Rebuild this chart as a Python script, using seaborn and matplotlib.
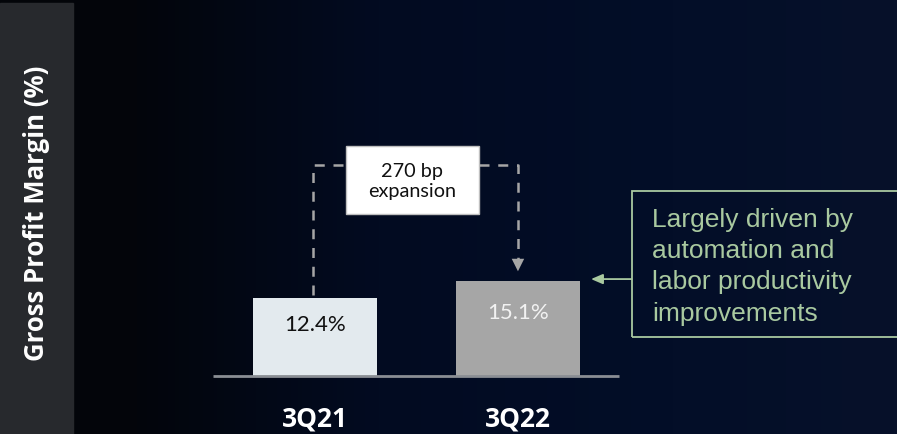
import numpy as np
import pandas as pd
import matplotlib
matplotlib.use('Agg')
import matplotlib.pyplot as plt
import seaborn as sns
from matplotlib.colors import LinearSegmentedColormap
from matplotlib.patches import Rectangle

# data
quarters = ['3Q21', '3Q22']
margins = [12.4, 15.1]
bar_labels = ['12.4%', '15.1%']
bar_colors = ['#e3eaee', '#a6a6a6']
label_colors = ['#111111', '#f2f2f2']
delta_text = '270 bp\nexpansion'
note_text = 'Largely driven by\nautomation and\nlabor productivity\nimprovements'
ylabel = 'Gross Profit Margin (%)'

df = pd.DataFrame({'quarter': quarters, 'margin': margins})

sns.set_style('white')
plt.rcParams['font.family'] = ['Open Sans', 'DejaVu Sans']

W, H = 897, 435
fig = plt.figure(figsize=(W / 100, H / 100), dpi=100)

# gradient background
bg = fig.add_axes([0, 0, 1, 1], zorder=0)
cmap = LinearSegmentedColormap.from_list(
    'bg', [(0, '#030509'), (0.15, '#03050b'), (0.42, '#020b21'), (0.75, '#030e28'), (1, '#07112a')])
bg.imshow(np.linspace(0, 1, 256)[None, :], aspect='auto', cmap=cmap, extent=[0, 1, 0, 1])
bg.set_axis_off()

# left label panel
bg.add_patch(Rectangle((0, 0), 73 / W, 431 / H, transform=bg.transAxes,
                       color='#27292d', zorder=2))
fig.text(37 / W, 1 - 213 / H, ylabel, rotation=90, ha='center', va='center',
         color='white', fontsize=18.5, fontweight='bold')

# main axes: baseline at y=377px, 6.29 px per point; bars centred at 315 / 518 px
ax = fig.add_axes([213 / W, 58 / H, 1 - 213 / W, 1 - 58 / H], zorder=1)
ax.patch.set_alpha(0)
sns.barplot(data=df, x='quarter', y='margin', hue='quarter', palette=bar_colors,
            width=0.61, legend=False, ax=ax, saturation=1, linewidth=0, edgecolor='none')
ax.set_xlim(-0.502, 2.867)
ax.set_ylim(0, 59.9)
ax.set_axis_off()

ax.plot([-0.502, 1.50], [0, 0], color='#8a8e94', lw=2, solid_capstyle='butt', clip_on=False)

for i, (m, lab) in enumerate(zip(margins, bar_labels)):
    ax.text(i, m - 4.1 - i * 0.9, lab, ha='center', va='center', color=label_colors[i],
            fontsize=16, family=['Lato', 'DejaVu Sans'])
    ax.text(i, -6.6, quarters[i], ha='center', va='center', color='white',
            fontsize=19, fontweight='bold')

# dashed bracket
dash = dict(color='#a6a6a6', lw=1.8, ls=(0, (4, 3.5)))
ax.plot([-0.01, -0.01, 0.15], [margins[0] + 0.5, 33.5, 33.5], **dash)
ax.plot([0.81, 1.0, 1.0], [33.5, 33.5, margins[1] + 3.0], **dash)
ax.annotate('', xy=(1.0, margins[1] + 1.1), xytext=(1.0, margins[1] + 3.2),
            arrowprops=dict(arrowstyle='-|>,head_width=0.45,head_length=0.9',
                            color='#a6a6a6', lw=0))
ax.add_patch(Rectangle((0.153, 25.8), 0.655, 10.8, facecolor='white',
                       edgecolor='#bfbfbf', lw=1, zorder=3))
ax.text(0.48, 31.0, delta_text, ha='center', va='center', color='#111111',
        fontsize=14.3, linespacing=1.22, family=['Lato', 'DejaVu Sans'], zorder=4)

# note box on the right
green = '#a9c9a0'
ax.add_patch(Rectangle((1.56, 6.2), 1.5, 23.2, facecolor='none', edgecolor=green,
                       lw=1.3, zorder=3, clip_on=True))
ax.text(1.66, 17.5, note_text, ha='left', va='center', color=green,
        fontsize=19, linespacing=1.38, family=['Liberation Sans', 'DejaVu Sans'])
ax.annotate('', xy=(1.36, 15.4), xytext=(1.56, 15.4),
            arrowprops=dict(arrowstyle='-|>,head_width=0.3,head_length=0.7',
                            color=green, lw=1.3, shrinkA=0, shrinkB=0))

fig.savefig('out.png', dpi=100)
